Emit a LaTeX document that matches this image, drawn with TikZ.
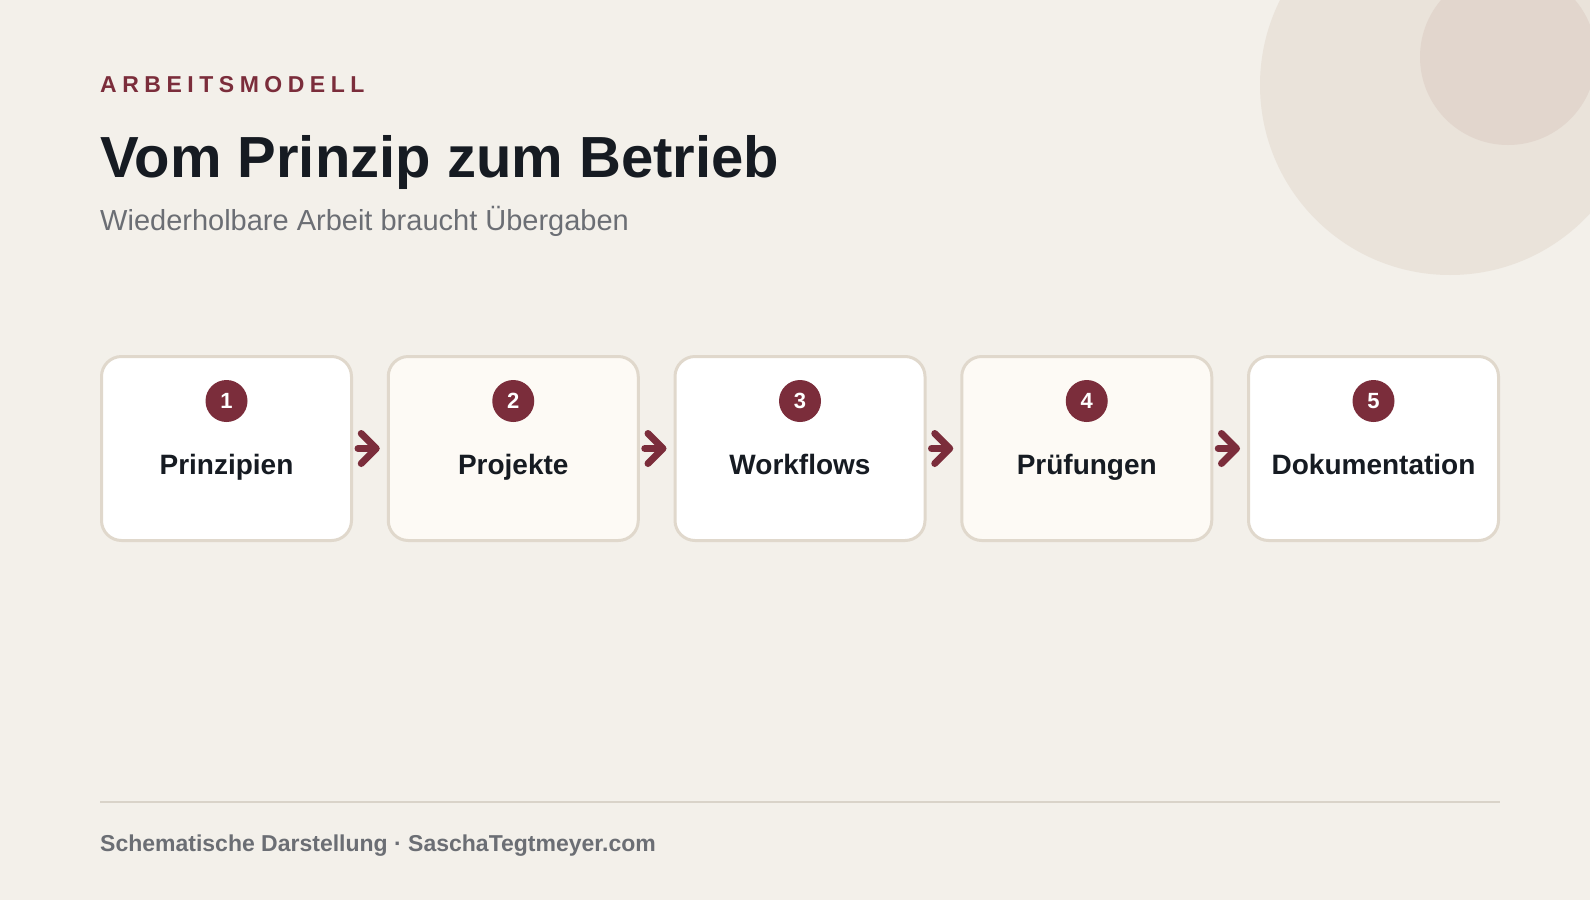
\documentclass[tikz,border=0pt]{standalone}
\usepackage{fontspec}
\setmainfont{Liberation Sans}
\newfontfamily\spacedfont[LetterSpace=24]{Liberation Sans}
\usetikzlibrary{arrows.meta}

\definecolor{paper}{HTML}{F3F0EA}
\definecolor{ringA}{HTML}{EAE3DA}
\definecolor{ringB}{HTML}{E2D6CD}
\definecolor{wine}{HTML}{7B2D3B}
\definecolor{ink}{HTML}{161B22}
\definecolor{muted}{HTML}{6B6E74}
\definecolor{cream}{HTML}{FDFAF5}
\definecolor{edge}{HTML}{E0D8CC}
\definecolor{rulecol}{HTML}{D9D3C9}

\begin{document}
\begin{tikzpicture}[x=1pt,y=-1pt,
    stage/.style={draw=edge,line width=3pt,rounded corners=20pt,
      minimum width=250pt,minimum height=184pt,inner sep=0pt},
    badge/.style={circle,fill=wine,text=white,minimum size=42pt,inner sep=0pt,
      font=\fontsize{22}{22}\selectfont\bfseries},
    stagelabel/.style={anchor=base,inner sep=0pt,text=ink,
      font=\fontsize{28}{28}\selectfont\bfseries},
    flow/.style={draw=wine,line width=7pt,line cap=round,
      -{Straight Barb[round,length=15pt,width=30pt]},
      shorten <=5pt,shorten >=7pt}]
  \useasboundingbox (0,0) rectangle (1590,900);
  \fill[paper] (0,0) rectangle (1590,900);

  % decoration top right
  \begin{scope}
    \clip (0,0) rectangle (1590,900);
    \fill[ringA] (1450,85) circle[radius=190];
    \fill[ringB] (1508,57) circle[radius=88];
  \end{scope}

  \node[anchor=base west,inner sep=0pt,text=wine,
    font=\spacedfont\fontsize{23}{23}\selectfont\bfseries] (kicker) at (100,92) {ARBEITSMODELL};
  \node[anchor=base west,inner sep=0pt,text=ink,
    font=\fontsize{58}{60}\selectfont\bfseries] (title) at (100,177.5) {Vom Prinzip zum Betrieb};
  \node[anchor=base west,inner sep=0pt,text=muted,
    font=\fontsize{29}{30}\selectfont] (subtitle) at (100,230) {Wiederholbare Arbeit braucht Übergaben};

  % the five stages
  \foreach \i/\lab/\col in {1/Prinzipien/white,2/Projekte/cream,3/Workflows/white,
                            4/Prüfungen/cream,5/Dokumentation/white}
  {
    \pgfmathsetmacro{\x}{226.5+286.75*(\i-1)}
    \node[stage,fill=\col] (b\i) at (\x,448.5) {};
    \node[badge] (n\i) at (\x,401) {\i};
    \node[stagelabel] (l\i) at (\x,474) {\lab};
  }
  \foreach \i [evaluate=\i as \j using int(\i+1)] in {1,...,4}
    \draw[flow] (b\i.east) -- (b\j.west);

  % footer
  \draw[rulecol,line width=2pt] (100,802) -- (1500,802);
  \node[anchor=base west,inner sep=0pt,text=muted,
    font=\fontsize{23}{24}\selectfont\bfseries] (footer) at (100,851)
    {Schematische Darstellung · SaschaTegtmeyer.com};
\end{tikzpicture}
\end{document}
